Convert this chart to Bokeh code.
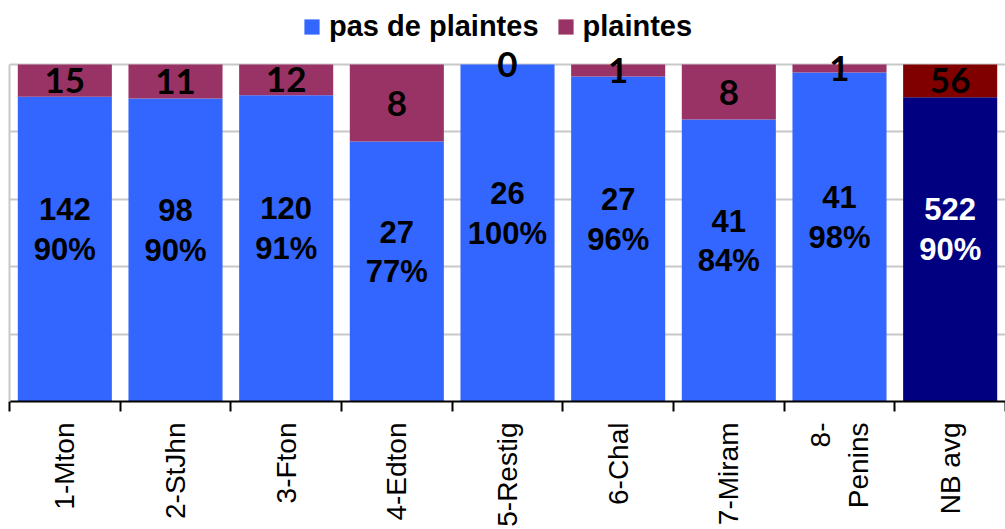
import math
from bokeh.plotting import figure
from bokeh.models import ColumnDataSource, FixedTicker, Legend, LegendItem
from bokeh.core.properties import value
from bokeh.embed import file_html
from bokeh.resources import INLINE

categories = ["1-Mton", "2-StJhn", "3-Fton", "4-Edton", "5-Restig", "6-Chal", "7-Miram", "8-\nPenins", "NB avg"]
pas_de_plaintes = [142, 98, 120, 27, 26, 27, 41, 41, 522]
plaintes = [15, 11, 12, 8, 0, 1, 8, 1, 56]
y_ticks = [0, 20, 40, 60, 80, 100]

n = len(categories)
xs = [i + 0.5 for i in range(n)]
totals = [a + b for a, b in zip(pas_de_plaintes, plaintes)]
pct_ok = [100.0 * a / t for a, t in zip(pas_de_plaintes, totals)]
pct_labels = [f"{round(v)}%" for v in pct_ok]

# layout (pixels)
FRAME_TOTAL = 401      # frame from top of page to x-axis
BAR_AREA = 337         # pixels spanned by 0..100 %
y_top = 100.0 * FRAME_TOTAL / BAR_AREA

mid_ok = [v / 2 for v in pct_ok]
count_y = [m + 40 * 100.0 / BAR_AREA for m in mid_ok]
mid_bad = [(v + 100) / 2 for v in pct_ok]

blue_cols = ["#3366FF"] * (n - 1) + ["#000080"]
red_cols = ["#993366"] * (n - 1) + ["#800000"]
txt_cols = ["black"] * (n - 1) + ["white"]

src = ColumnDataSource(dict(
    x=xs, ok=pct_ok, zero=[0] * n, hundred=[100] * n,
    bcol=blue_cols, rcol=red_cols, tcol=txt_cols,
    cnt_ok=[str(v) for v in pas_de_plaintes], cnt_bad=[str(v) for v in plaintes],
    pct=pct_labels, cy=count_y, my=mid_ok, by=mid_bad,
))

p = figure(width=1005, height=529, x_range=(0, n), y_range=(0, y_top),
           output_backend="svg", toolbar_location=None,
           min_border_left=9, min_border_right=0, min_border_top=0, min_border_bottom=128)

r_ok = p.vbar(x="x", width=0.85, bottom="zero", top="ok", fill_color="bcol", line_color=None, source=src)
r_bad = p.vbar(x="x", width=0.85, bottom="ok", top="hundred", fill_color="rcol", line_color=None, source=src)

p.text(x="x", y="cy", text="cnt_ok", text_align="center", text_baseline="middle",
       text_font=value("Liberation Sans"), text_font_style="bold", text_font_size="31px",
       text_color="tcol", source=src)
p.text(x="x", y="my", text="pct", text_align="center", text_baseline="middle",
       text_font=value("Liberation Sans"), text_font_style="bold", text_font_size="31px",
       text_color="tcol", source=src)
p.text(x="x", y="by", text="cnt_bad", text_align="center", text_baseline="middle",
       text_font=value("Lato"), text_font_style="bold", text_font_size="35px",
       text_color="black", source=src)

p.outline_line_color = None
p.xgrid.visible = False
p.ygrid.ticker = FixedTicker(ticks=y_ticks)
p.ygrid.grid_line_color = "#c8c8c8"
p.ygrid.grid_line_width = 2

yax = p.yaxis[0]
yax.bounds = (0, 100)
yax.ticker = FixedTicker(ticks=[])
yax.axis_line_color = "#c8c8c8"
yax.axis_line_width = 2
yax.major_tick_in = 0
yax.major_tick_out = 0
yax.minor_tick_line_color = None
yax.major_label_standoff = 0

ax = p.xaxis[0]
ax.ticker = FixedTicker(ticks=xs, minor_ticks=list(range(n + 1)))
ax.major_label_overrides = {x: c for x, c in zip(xs, categories)}
ax.major_tick_in = 0
ax.major_tick_out = 0
ax.minor_tick_in = 0
ax.minor_tick_out = 10
ax.minor_tick_line_color = "black"
ax.minor_tick_line_width = 2
ax.axis_line_color = "black"
ax.axis_line_width = 2
ax.major_label_orientation = math.pi / 2
ax.major_label_standoff = 11
ax.major_label_text_font = "Liberation Sans"
ax.major_label_text_font_size = "28px"
ax.major_label_text_color = "black"

legend = Legend(items=[LegendItem(label="pas de plaintes", renderers=[r_ok], index=0),
                       LegendItem(label="plaintes", renderers=[r_bad], index=0)],
                orientation="horizontal", location=(293, 358),
                label_text_font="Liberation Sans", label_text_font_style="bold",
                label_text_font_size="29px", label_text_color="black",
                glyph_width=19, glyph_height=19,
                label_standoff=8, spacing=17, border_line_color=None,
                background_fill_alpha=0, padding=0, margin=0)
p.add_layout(legend, "center")

open("out.html", "w").write(file_html(p, INLINE))
